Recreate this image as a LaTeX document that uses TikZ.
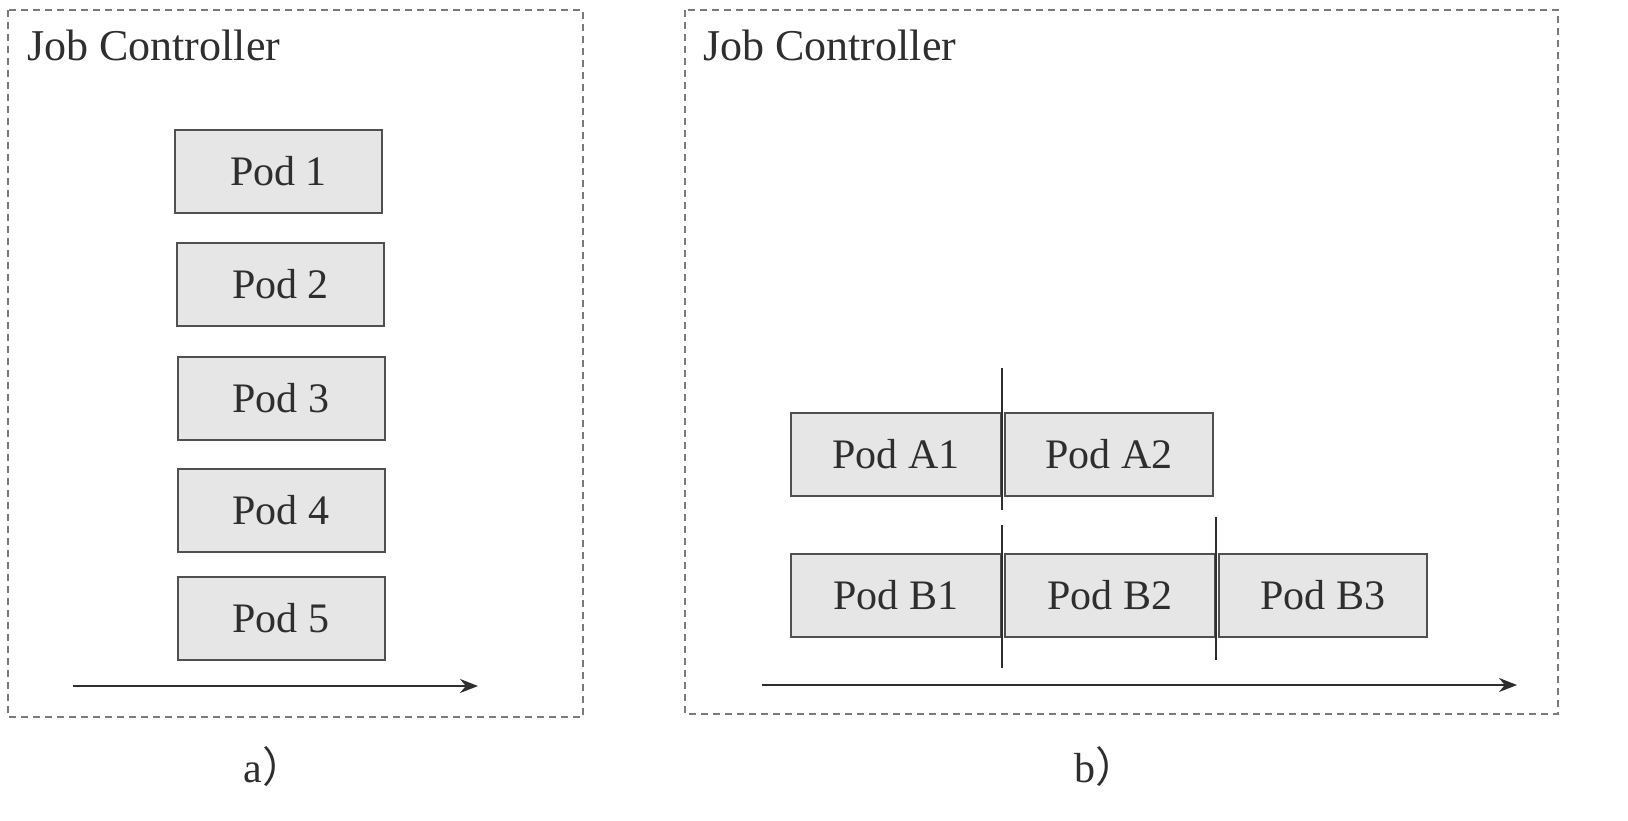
\documentclass[tikz,border=0pt]{standalone}
\usepackage{fontspec}
\setmainfont{Liberation Serif}
\newfontfamily\cjk{Noto Sans CJK SC}
\usetikzlibrary{arrows.meta}
\definecolor{podfill}{HTML}{E6E6E6}
\definecolor{poddraw}{HTML}{505050}
\definecolor{frame}{HTML}{7A7A7A}
\definecolor{ink}{HTML}{2E2E2E}
\begin{document}
\begin{tikzpicture}[x=1pt,y=-1pt,
  pod/.style={draw=poddraw,fill=podfill,line width=2pt,inner sep=0pt,
    minimum width=207pt,minimum height=83pt,text=ink,
    font=\fontsize{42}{50}\selectfont},
  panel/.style={draw=frame,line width=1.6pt,dash pattern=on 7pt off 5pt},
  title/.style={anchor=base west,text=ink,inner sep=0pt,font=\fontsize{44}{52}\selectfont},
  timeline/.style={draw=ink,line width=2.2pt,-{Stealth[length=18pt,width=14pt]}},
  divider/.style={draw=ink,line width=2pt},
  caption/.style={anchor=base,text=ink,inner sep=0pt,font=\fontsize{42}{50}\selectfont}]
\useasboundingbox[fill=white] (0,0) rectangle (1628,820);
% panel a
\draw[panel] (8,10) rectangle (583,717);
\node[title] (ta) at (27,60) {Job Controller};
\node[pod] (p1) at (278.5,171.5) {Pod 1};
\node[pod] (p2) at (280.5,284) {Pod 2};
\node[pod] (p3) at (281,398) {Pod 3};
\node[pod] (p4) at (281,510) {Pod 4};
\node[pod] (p5) at (281,618.5) {Pod 5};
\coordinate (as) at (73,686);
\coordinate (ae) at (478,686);
\draw[timeline] (as) -- (ae);
\node[caption] (ca) at (274,782) {a{\cjk ）}};
% panel b
\draw[panel] (685,10) rectangle (1558,714);
\node[title] (tb) at (703,60) {Job Controller};
\node[pod,minimum width=210pt] (a1) at (896,454.5) {Pod A1};
\node[pod,minimum width=208pt] (a2) at (1109,454.5) {Pod A2};
\node[pod,minimum width=210pt] (b1) at (896,595.5) {Pod B1};
\node[pod,minimum width=210pt] (b2) at (1110,595.5) {Pod B2};
\node[pod,minimum width=208pt] (b3) at (1323,595.5) {Pod B3};
\coordinate (v1t) at (1002,368);
\coordinate (v1b) at (1002,510);
\coordinate (v2t) at (1002,525);
\coordinate (v2b) at (1002,668);
\coordinate (v3t) at (1216,517);
\coordinate (v3b) at (1216,660);
\draw[divider] (v1t) -- (v1b);
\draw[divider] (v2t) -- (v2b);
\draw[divider] (v3t) -- (v3b);
\coordinate (bs) at (762,685);
\coordinate (be) at (1517,685);
\draw[timeline] (bs) -- (be);
\node[caption] (cb) at (1106,782) {b{\cjk ）}};
\end{tikzpicture}
\end{document}
